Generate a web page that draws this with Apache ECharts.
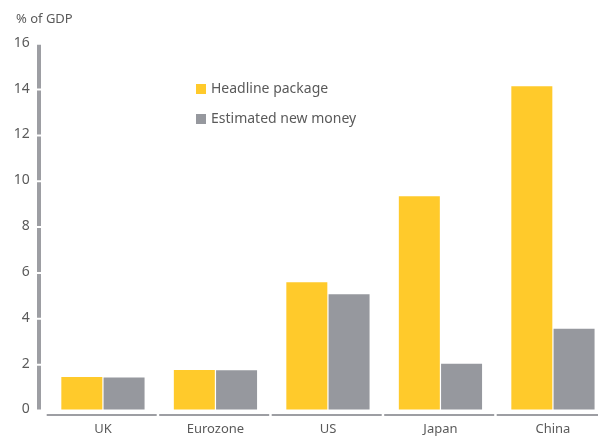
<!DOCTYPE html>
<html><head><meta charset="utf-8">
<script src="https://cdn.jsdelivr.net/npm/echarts@6/dist/echarts.min.js"></script>
<style>html,body{margin:0;padding:0;background:#fff}#c{width:598px;height:438px}</style>
</head><body><div id="c"></div>
<script>
const categories = ['UK', 'Eurozone', 'US', 'Japan', 'China'];
const headlinePackage = [1.42, 1.72, 5.55, 9.3, 14.1];
const estimatedNewMoney = [1.4, 1.71, 5.03, 2.0, 3.52];
const seriesNames = ['Headline package', 'Estimated new money'];
const yTicks = [0, 2, 4, 6, 8, 10, 12, 14, 16];
const FONT = 'Noto Sans';
const TXT = '#5a5a5a';
const AXIS = '#9d9ea3';
const chart = echarts.init(document.getElementById('c'), null, {renderer: 'canvas'});
chart.setOption({
  animation: false,
  textStyle: {fontFamily: FONT},
  title: {text: '% of GDP', left: 11, top: 8, textStyle: {fontFamily: FONT, fontSize: 13, fontWeight: 'normal', color: TXT}},
  legend: {
    left: 191, top: 77, orient: 'vertical', itemGap: 16, itemWidth: 10, itemHeight: 10,
    icon: 'rect', textStyle: {fontFamily: FONT, fontSize: 14, color: TXT}
  },
  grid: [
    {left: 46.7, width: 562.5, top: 42.7, bottom: 28.5, containLabel: false, outerBoundsMode: 'none'},
    {left: 46.7, width: 562.5, bottom: 23.5, height: 1, containLabel: false, outerBoundsMode: 'none'}
  ],
  xAxis: [
    {type: 'category', data: categories, gridIndex: 0,
     axisLine: {show: false}, axisTick: {show: false}, axisLabel: {show: false}},
    {type: 'category', data: categories, gridIndex: 1,
     axisLine: {onZero: false, lineStyle: {color: AXIS, width: 2, type: [110, 2.5], cap: 'butt'}},
     axisTick: {show: false},
     axisLabel: {fontFamily: FONT, fontSize: 13, color: TXT, margin: 8}}
  ],
  yAxis: [
    {type: 'value', gridIndex: 0, min: yTicks[0], max: yTicks[yTicks.length - 1], interval: 2, offset: 8,
     axisLine: {show: true, lineStyle: {color: AXIS, width: 4, type: [43.85, 2], cap: 'butt'}},
     axisTick: {show: false},
     splitLine: {show: false},
     axisLabel: {fontFamily: FONT, fontSize: 14, color: TXT, margin: 9}},
    {type: 'value', gridIndex: 1, show: false}
  ],
  series: [
    {name: seriesNames[0], type: 'bar', data: headlinePackage, barWidth: 41, barGap: '3%',
     itemStyle: {color: '#FFCA2B'}},
    {name: seriesNames[1], type: 'bar', data: estimatedNewMoney, barWidth: 41,
     itemStyle: {color: '#96989E'}}
  ]
});
</script></body></html>
